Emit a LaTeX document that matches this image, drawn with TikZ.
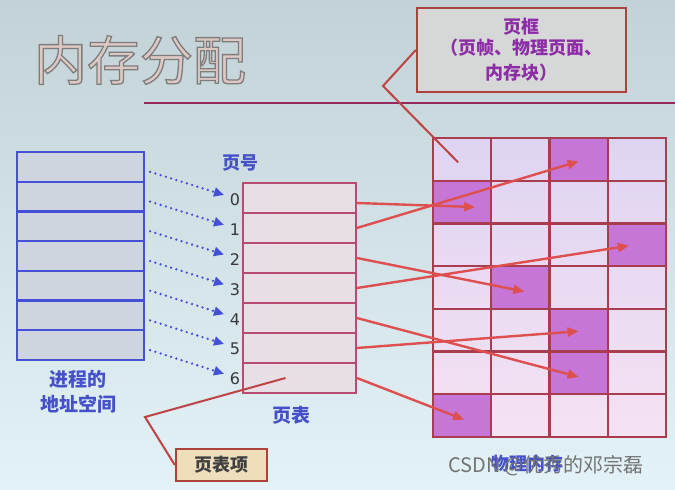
\documentclass[tikz,border=0pt]{standalone}
\usepackage{fontspec}
\newfontfamily\cjk{Noto Sans CJK SC}
\newfontfamily\numfont{DejaVu Sans}
\usetikzlibrary{arrows.meta,calc}
\definecolor{bgtop}{RGB}{194,210,215}
\definecolor{bgbot}{RGB}{226,242,246}
\definecolor{titlefill}{RGB}{222,200,196}
\definecolor{rulecol}{RGB}{150,40,90}
\definecolor{boxred}{RGB}{175,65,60}
\definecolor{boxfill}{RGB}{214,216,216}
\definecolor{purpletext}{RGB}{140,45,165}
\definecolor{addrblue}{RGB}{70,80,215}
\definecolor{addrfill}{RGB}{206,213,222}
\definecolor{ptborder}{RGB}{185,75,115}
\definecolor{ptfill}{RGB}{232,222,230}
\definecolor{gridline}{RGB}{170,60,80}
\definecolor{celltop}{RGB}{222,212,242}
\definecolor{cellbot}{RGB}{245,226,242}
\definecolor{cellhi}{RGB}{198,118,214}
\definecolor{arrred}{RGB}{222,80,80}
\definecolor{labelblue}{RGB}{70,80,200}
\definecolor{numgray}{RGB}{55,55,60}
\definecolor{ptefill}{RGB}{238,222,188}
\newcommand{\outlinedtitle}[1]{\textcolor{titlefill}{\special{pdf:literal direct q 0.49 0.49 0.49 RG 1.3 w 2 Tr}#1\special{pdf:literal direct 0 Tr Q}}}
\tikzset{
  addr/.style={draw=addrblue, line width=2.2pt, fill=addrfill, minimum width=127pt, minimum height=29.71pt, inner sep=0pt},
  ptrow/.style={draw=ptborder, line width=1.8pt, fill=ptfill, minimum width=113pt, minimum height=30pt, inner sep=0pt},
  cell/.style={draw=gridline, line width=2.4pt, minimum width=58.25pt, minimum height=42.71pt, inner sep=0pt},
  hicell/.style={cell, fill=cellhi},
  numlab/.style={font=\numfont\fontsize{16}{16}\selectfont, text=numgray, inner sep=0pt},
  bluelab/.style={font=\cjk\bfseries\fontsize{19}{19}\selectfont, text=labelblue, inner sep=0pt},
  dotarrow/.style={addrblue, line width=2.6pt, line cap=round, dash pattern=on 0pt off 5.5pt, -{Triangle[length=10pt,width=9pt,line cap=butt]}},
  redarrow/.style={arrred, line width=2.4pt, -{Triangle[length=11pt,width=9pt]}},
  callout/.style={draw=arrred!85!black, line width=2pt}
}
\begin{document}
\begin{tikzpicture}[x=1pt,y=-1pt]
\useasboundingbox (0,0) rectangle (675,490);
\shade[top color=bgtop, bottom color=bgbot] (0,0) rectangle (675,490);

% title and rule
\node (title) at (140,60) {\cjk\fontsize{53}{53}\selectfont\outlinedtitle{内存分配}};
\draw[rulecol, line width=2.6pt] (144,103) -- (675,103);

% frame label box
\node[draw=boxred, line width=2.4pt, fill=boxfill, minimum width=209pt, minimum height=84pt, align=center,
      font=\cjk\bfseries\fontsize{18}{25}\selectfont, text=purpletext] (fb) at (521.5,50)
      {\raisebox{-3pt}{页框}\\[-1pt]（页帧、物理页面、\\内存块）};

% address space
\foreach \i in {0,...,6} {
  \node[addr] (a\i) at (80.5,{166.86+29.71*\i}) {};
}
\node[bluelab] (as1) at (78,379) {进程的};
\node[bluelab] (as2) at (78,404) {地址空间};

% page table
\foreach \i in {0,...,6} {
  \node[ptrow] (p\i) at (299.5,{198+30*\i}) {};
  \node[numlab] (n\i) at (235,{200+29.8*\i}) {\i};
}
\node[bluelab, font=\cjk\bfseries\fontsize{18}{18}\selectfont] (pnum) at (240,163) {页号};
\node[bluelab] (ptlab) at (291,415) {页表};

% physical memory grid
\shade[top color=celltop, bottom color=cellbot] (433,138) rectangle (666,437);
\foreach \r in {0,...,6} {
  \foreach \c in {0,...,3} {
    \node[cell] (f-\r-\c) at ({462.125+58.25*\c},{159.36+42.71*\r}) {};
  }
}
\foreach \r/\c in {0/2,1/0,2/3,3/1,4/2,5/2,6/0} {
  \node[hicell] at (f-\r-\c) {};
}
\node[bluelab, font=\cjk\bfseries\fontsize{18}{18}\selectfont] (pmlab) at (527,464) {物理内存};

% dotted arrows: address space -> page numbers
\foreach \i in {0,...,6} {
  \draw[dotarrow] ($(a\i.east)+(5,5)$) -- ($(n\i.center)+(-11,-5)$);
}

% red arrows: page table -> frames
\draw[redarrow] ($(p0.east)+(0,5)$) -- ($(f-1-0.center)+(13,5)$);
\draw[redarrow] (p1.east) -- ($(f-0-2.center)+(0,2)$);
\draw[redarrow] (p2.east) -- ($(f-3-1.center)+(4,4)$);
\draw[redarrow] (p3.east) -- ($(f-2-3.center)+(-8,1)$);
\draw[redarrow] (p4.east) -- ($(f-5-2.center)+(0,4)$);
\draw[redarrow] (p5.east) -- ($(f-4-2.center)+(0,1)$);
\draw[redarrow] (p6.east) -- ($(f-6-0.center)+(2,4)$);

% callouts
\coordinate (fbk) at (383,86);
\draw[callout] (fb.west) -- (fbk) -- ($(f-0-0.center)+(-4,3)$);

\node[draw=boxred, line width=2.4pt, fill=ptefill, minimum width=91pt, minimum height=32pt, inner sep=0pt,
      font=\cjk\bfseries\fontsize{18}{18}\selectfont, text=black!75] (pte) at (221.5,465) {页表项};
\coordinate (ptek) at (145,417);
\draw[callout] (pte.west) -- (ptek) -- ($(p6.center)+(-14,0)$);

% watermark
\node[text=black!55, font=\cjk\fontsize{20}{20}\selectfont, inner sep=0pt] (wm) at (546,466) {CSDN @优秀的邓宗磊};
\end{tikzpicture}
\end{document}
